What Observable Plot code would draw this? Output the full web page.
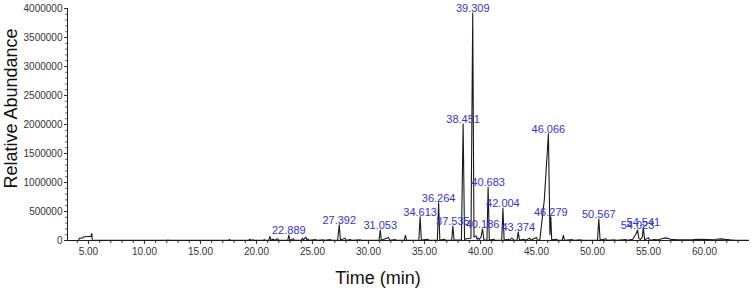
<!DOCTYPE html>
<html><head><meta charset="utf-8">
<script src="https://cdn.jsdelivr.net/npm/d3@7"></script>
<script src="https://cdn.jsdelivr.net/npm/@observablehq/plot@0.6"></script>
<style>body{margin:0;background:#fff}</style>
</head><body><div id="chart"></div>
<script>
// Chromatogram trace (retention time in min, abundance)
const traceTime = [3.13, 4.1, 4.2, 4.5, 4.6, 5.0, 5.2, 5.3, 5.35, 5.6, 6.0, 7.0, 12.0, 12.1, 12.2, 13.2, 13.5, 17.5, 17.6, 17.7,
  19.3, 19.4, 19.5, 19.7, 19.8, 20.6, 20.7, 20.8, 21.1, 21.2, 21.3, 21.5, 21.6, 21.9, 22.0, 22.8, 22.889, 22.98, 23.3, 23.4,
  24.0, 24.1, 24.2, 24.4, 24.5, 24.6, 24.7, 25.3, 25.4, 26.0, 26.1, 26.6, 26.7, 27.25, 27.392, 27.5, 27.9, 28.0, 28.4, 28.5,
  29.3, 29.4, 30.95, 31.053, 31.15, 31.8, 31.9, 32.4, 32.5, 33.2, 33.3, 33.4, 34.5, 34.613, 34.72, 35.3, 35.4, 36.15, 36.264, 36.37,
  36.8, 36.9, 37.43, 37.535, 37.64, 38.3, 38.451, 38.58, 38.8, 39.15, 39.309, 39.42, 39.6, 39.7, 39.8, 39.9, 40.05, 40.186, 40.3, 40.58,
  40.683, 40.79, 41.2, 41.3, 41.9, 42.004, 42.11, 42.5, 42.6, 42.8, 42.9, 43.0, 43.27, 43.374, 43.48, 43.9, 44.0, 44.4, 44.5, 45.0,
  45.1, 45.3, 45.7, 46.066, 46.2, 46.279, 46.36, 46.8, 46.9, 47.3, 47.4, 47.5, 48.2, 48.3, 49.0, 49.1, 50.45, 50.567, 50.68, 51.2,
  51.3, 52.0, 52.1, 53.0, 53.1, 53.6, 53.9, 54.023, 54.15, 54.3, 54.45, 54.541, 54.65, 55.0, 55.1, 55.5, 55.8, 56.2, 56.5, 57.0,
  57.6, 58.2, 59.0, 59.5, 60.3, 61.0, 61.5, 61.8, 62.3, 62.8, 63.93];
const traceAbundance = [0, 0, 40000, 45000, 65000, 70000, 68000, 120000, 0, 5000, 3000, 2000, 2000, 8000, 2000, 5000, 2000, 2000, 18000, 2000,
  3000, 25000, 5000, 12000, 3000, 3000, 15000, 3000, 4000, 70000, 5000, 25000, 4000, 30000, 4000, 5000, 95000, 5000, 30000, 4000,
  5000, 40000, 10000, 60000, 10000, 30000, 4000, 15000, 3000, 10000, 3000, 15000, 3000, 8000, 270000, 10000, 40000, 4000, 15000, 3000,
  10000, 3000, 5000, 180000, 5000, 50000, 4000, 15000, 3000, 5000, 90000, 5000, 8000, 410000, 8000, 20000, 4000, 6000, 650000, 8000,
  20000, 5000, 6000, 250000, 6000, 10000, 2010000, 20000, 30000, 40000, 3920000, 60000, 80000, 20000, 40000, 20000, 60000, 200000, 10000, 8000,
  920000, 8000, 20000, 5000, 8000, 560000, 8000, 20000, 5000, 40000, 25000, 5000, 8000, 150000, 8000, 20000, 4000, 40000, 4000, 50000,
  5000, 10000, 700000, 1840000, 100000, 410000, 10000, 20000, 4000, 5000, 90000, 5000, 15000, 3000, 10000, 3000, 6000, 370000, 6000, 30000,
  3000, 10000, 3000, 15000, 3000, 20000, 120000, 180000, 30000, 20000, 60000, 230000, 10000, 50000, 5000, 15000, 10000, 30000, 45000, 20000,
  10000, 12000, 15000, 20000, 18000, 22000, 28000, 20000, 10000, 5000, 2000];

// Labelled peaks
const peakTimes = [22.889, 27.392, 31.053, 34.613, 36.264, 37.535, 38.451, 39.309, 40.186, 40.683, 42.004, 43.374, 46.066, 46.279, 50.567, 54.023, 54.541];
const peakHeights = [95000, 270000, 180000, 410000, 650000, 250000, 2010000, 3920000, 200000, 920000, 560000, 150000, 1840000, 410000, 370000, 180000, 230000];
const peakLabels = ["22.889", "27.392", "31.053", "34.613", "36.264", "37.535", "38.451", "39.309", "40.186", "40.683", "42.004", "43.374", "46.066", "46.279", "50.567", "54.023", "54.541"];

const xTickValues = [5, 10, 15, 20, 25, 30, 35, 40, 45, 50, 55, 60];
const xTickLabels = ["5.00", "10.00", "15.00", "20.00", "25.00", "30.00", "35.00", "40.00", "45.00", "50.00", "55.00", "60.00"];
const xMinorTicks = d3.range(4, 64, 1);
const yTickValues = [0, 500000, 1000000, 1500000, 2000000, 2500000, 3000000, 3500000, 4000000];
const yMinorTicks = d3.range(0, 4000001, 100000);
const xDomain = [3.13, 63.93];
const yDomain = [0, 4000000];

const trace = traceTime.map((t, i) => ({t, a: traceAbundance[i]}));
const peaks = peakTimes.map((t, i) => ({t, a: peakHeights[i], label: peakLabels[i]}));

const chart = Plot.plot({
  width: 753,
  height: 296,
  marginLeft: 67,
  marginRight: 5,
  marginTop: 8,
  marginBottom: 56,
  style: {fontFamily: "'Liberation Sans', Arial, sans-serif", fontSize: "10px", color: "#333", background: "#fff", overflow: "visible"},
  x: {domain: xDomain},
  y: {domain: yDomain},
  marks: [
    Plot.axisX({ticks: xMinorTicks, tickSize: 3, text: null, label: null, stroke: "#333"}),
    Plot.axisX({ticks: xTickValues, tickSize: 4, tickPadding: 3, tickFormat: d => xTickLabels[xTickValues.indexOf(d)], label: null, fontSize: 10, fill: "#333", stroke: "#333"}),
    Plot.axisY({ticks: yMinorTicks, tickSize: 2, text: null, label: null, stroke: "#666"}),
    Plot.axisY({ticks: yTickValues, tickSize: 3, tickPadding: 2, tickFormat: d => String(d), label: null, fontSize: 10, fill: "#333", stroke: "#333"}),
    Plot.ruleX([xDomain[0]], {stroke: "#222"}),
    Plot.ruleY(peaks, {x1: d => d.t - 0.25, x2: d => d.t + 0.25, y: 0, stroke: "#e03a3a", strokeWidth: 1.2, strokeOpacity: 0.6}),
    Plot.ruleY([0], {stroke: "#222"}),
    Plot.line(trace, {x: "t", y: "a", stroke: "#1a1a1a", strokeWidth: 1.1}),
    Plot.text(peaks, {x: "t", y: "a", text: "label", lineAnchor: "bottom", dy: -1, fill: "#3434c8", fontSize: 11}),
    Plot.text(["Relative Abundance"], {frameAnchor: "left", textAnchor: "middle", dx: -56, dy: -16, rotate: -90, fontSize: 18, fill: "#111"}),
    Plot.text(["Time (min)"], {frameAnchor: "bottom", textAnchor: "middle", dx: -30, dy: 43, fontSize: 18, fill: "#111"})
  ]
});
document.getElementById("chart").appendChild(chart);
</script>
</body></html>
